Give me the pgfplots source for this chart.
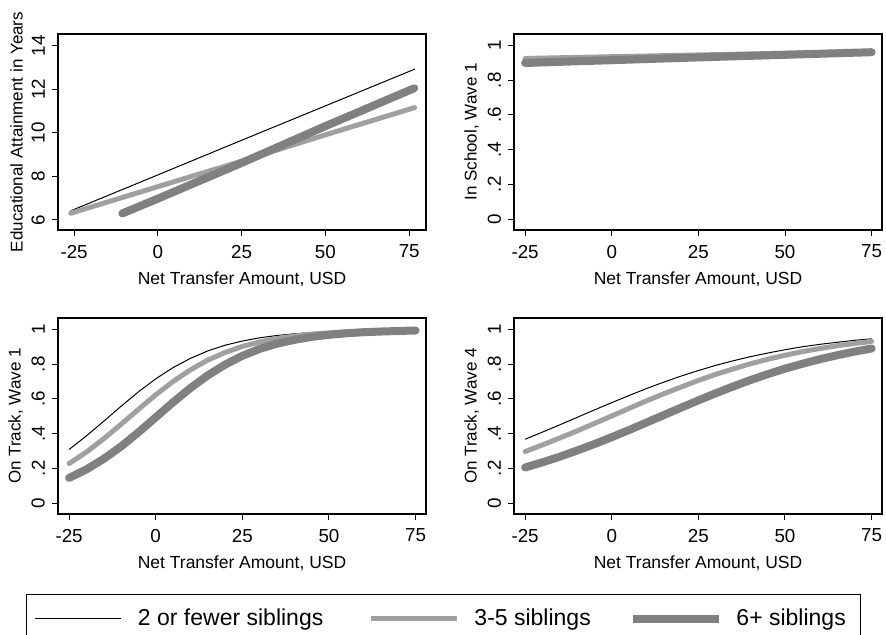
\documentclass[border=0pt]{standalone}
\usepackage{fontspec}
\setmainfont{Liberation Sans}
\usepackage{pgfplots}
\pgfplotsset{compat=1.18}
\definecolor{lgr}{RGB}{160,160,160}
\definecolor{dgr}{RGB}{128,128,128}

\pgfplotsset{
  panel/.style={
    scale only axis, width=184pt, height=98pt,
    anchor=south west,
    xtick pos=left, ytick pos=left,
    tick align=outside, major tick length=3pt,
    tick style={black, line width=0.5pt},
    axis line style={black, line width=0.6pt},
    xmin=-28.2, xmax=78,
    xtick={-25,0,25,50,75}, xticklabels={-25,0,25,50,75},
    ymin=-0.063, ymax=1.067,
    ytick={0,0.2,0.4,0.6,0.8,1}, yticklabels={0,.2,.4,.6,.8,1},
    ticklabel style={font=\fontsize{9.4}{10}\selectfont},
    xticklabel style={yshift=-1pt},
    xlabel style={font=\fontsize{8.75}{10}\selectfont},
    ylabel style={font=\fontsize{8.5}{10}\selectfont},
    ylabel shift=-2.5pt,
    yticklabel style={rotate=90, anchor=south},
    xlabel={Net Transfer Amount, USD},
  },
  s1/.style={black, line width=0.5pt},
  s2/.style={lgr, line width=2.5pt, line cap=round},
  s3/.style={dgr, line width=4pt, line cap=round},
}

\begin{document}
\begin{tikzpicture}
% top left: years of schooling
\begin{axis}[panel, at={(29pt,202.5pt)},
  xmin=-29.8, xmax=80, ymin=5.54, ymax=14.54,
  ytick={6,8,10,12,14}, yticklabels={6,8,10,12,14},
  ylabel={Educational Attainment in Years}]
\addplot[s1] coordinates {(-26,6.42) (0,8.07) (25,9.66) (50,11.24) (76.7,12.93)};
\addplot[s2] coordinates {(-26,6.31) (0,7.53) (25,8.70) (50,9.91) (76.6,11.16)};
\addplot[s3] coordinates {(-10.6,6.30) (0,6.98) (25,8.62) (50,10.31) (76.5,12.05)};
\end{axis}

% top right: in school
\begin{axis}[panel, at={(257pt,202.5pt)},
  ylabel={In School, Wave 1}]
\addplot[s1] coordinates {(-25,0.928) (0,0.938) (25,0.948) (50,0.957) (75,0.966)};
\addplot[s2] coordinates {(-25,0.926) (0,0.936) (25,0.946) (50,0.956) (75,0.965)};
\addplot[s3] coordinates {(-25,0.900) (0,0.916) (25,0.932) (50,0.947) (75,0.962)};
\end{axis}

% bottom left: on track wave 1
\begin{axis}[panel, at={(29pt,60.5pt)},
  ylabel={On Track, Wave 1}]
\addplot[s1] coordinates {
(-25,0.309) (-20,0.387) (-15,0.472) (-10,0.558) (-5,0.641) (0,0.716)
(5,0.781) (10,0.834) (15,0.877) (20,0.910) (25,0.934) (30,0.953)
(35,0.966) (40,0.976) (45,0.983) (50,0.988) (55,0.991) (60,0.994)
(65,0.996) (70,0.997) (75,0.998)};
\addplot[s2] coordinates {
(-25,0.228) (-20,0.294) (-15,0.371) (-10,0.454) (-5,0.540) (0,0.624)
(5,0.701) (10,0.768) (15,0.824) (20,0.868) (25,0.903) (30,0.929)
(35,0.949) (40,0.963) (45,0.974) (50,0.981) (55,0.987) (60,0.990)
(65,0.993) (70,0.995) (75,0.997)};
\addplot[s3] coordinates {
(-25,0.145) (-20,0.194) (-15,0.255) (-10,0.326) (-5,0.408) (0,0.494)
(5,0.581) (10,0.663) (15,0.736) (20,0.798) (25,0.849) (30,0.889)
(35,0.919) (40,0.941) (45,0.958) (50,0.970) (55,0.979) (60,0.985)
(65,0.989) (70,0.992) (75,0.995)};
\end{axis}

% bottom right: on track wave 4, carries the legend
\begin{axis}[panel, at={(257pt,60.5pt)},
  ylabel={On Track, Wave 4},
  legend columns=3,
  legend style={at={(-0.1916,-0.4088)}, anchor=north, draw=black,
    line width=0.6pt, inner xsep=4pt, inner ysep=7pt,
    font=\fontsize{11.5}{13}\selectfont,
    nodes={inner sep=0pt}, column sep=0pt},
  legend image code/.code={
    \path[draw=none, fill=none] (0pt,-4pt) rectangle (51.5pt,4pt);
    \draw[#1, line cap=butt] (0pt,0pt) -- (43pt,0pt);}]
\addplot[s1] coordinates {
(-25,0.368) (-20,0.409) (-15,0.451) (-10,0.494) (-5,0.537) (0,0.579)
(5,0.620) (10,0.660) (15,0.697) (20,0.732) (25,0.764) (30,0.794)
(35,0.820) (40,0.844) (45,0.865) (50,0.884) (55,0.901) (60,0.915)
(65,0.927) (70,0.938) (75,0.947)};
\addlegendentry{\makebox[115.5pt][l]{2 or fewer siblings}}
\addplot[s2] coordinates {
(-25,0.297) (-20,0.335) (-15,0.375) (-10,0.416) (-5,0.459) (0,0.502)
(5,0.546) (10,0.589) (15,0.630) (20,0.669) (25,0.707) (30,0.742)
(35,0.773) (40,0.803) (45,0.829) (50,0.852) (55,0.873) (60,0.891)
(65,0.907) (70,0.920) (75,0.932)};
\addlegendentry{\makebox[77.5pt][l]{3-5 siblings}}
\addplot[s3] coordinates {
(-25,0.205) (-20,0.235) (-15,0.267) (-10,0.303) (-5,0.340) (0,0.380)
(5,0.421) (10,0.464) (15,0.507) (20,0.550) (25,0.592) (30,0.633)
(35,0.672) (40,0.709) (45,0.743) (50,0.775) (55,0.803) (60,0.829)
(65,0.852) (70,0.873) (75,0.891)};
\addlegendentry{\makebox[58pt][l]{6+ siblings}}
\end{axis}

\pgfresetboundingbox
\path[use as bounding box] (0pt,0pt) rectangle (443pt,317.5pt);
\end{tikzpicture}
\end{document}
